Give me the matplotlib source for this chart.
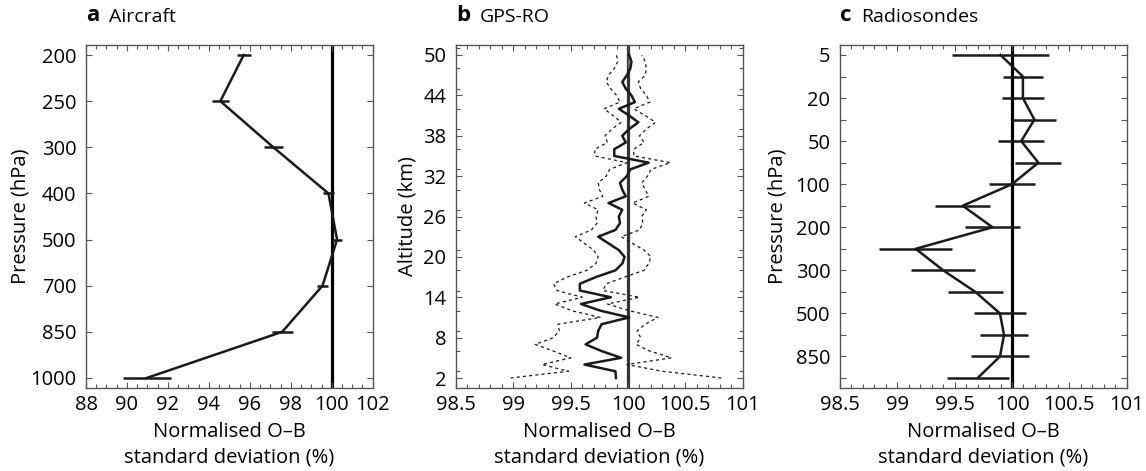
import matplotlib
matplotlib.use('Agg')
import matplotlib.pyplot as plt
from matplotlib.ticker import MultipleLocator, FixedLocator
import numpy as np

# ---------------- data ----------------
air_levels = ['200', '250', '300', '400', '500', '700', '850', '1000']
air_values = [95.7, 94.56, 97.15, 99.84, 100.26, 99.55, 97.58, 90.96]
air_err = [0.35, 0.42, 0.45, 0.25, 0.23, 0.28, 0.51, 1.17]

gps_alt = list(range(2, 51))
gps_values = [99.895, 99.89, 99.62, 99.94, 99.77, 99.63, 99.73, 99.74, 99.77, 100.01,
              99.76, 99.59, 99.85, 99.58, 99.58, 99.72, 99.89, 99.95, 99.97, 99.92,
              99.83, 99.74, 99.89, 99.93, 99.92, 99.95, 99.83, 99.98, 99.95, 99.93,
              99.99, 100.02, 100.18, 99.88, 99.88, 99.98, 99.95, 100.01, 100.09, 100.01,
              99.92, 100.06, 100.03, 99.98, 99.95, 99.99, 100.02, 100.03, 100.01]
gps_err = [0.92, 0.41, 0.37, 0.44, 0.42, 0.44, 0.38, 0.34, 0.38, 0.25,
           0.25, 0.23, 0.25, 0.20, 0.23, 0.25, 0.25, 0.23, 0.23, 0.22,
           0.21, 0.20, 0.21, 0.20, 0.20, 0.21, 0.21, 0.20, 0.20, 0.19,
           0.18, 0.18, 0.19, 0.17, 0.17, 0.16, 0.15, 0.15, 0.15, 0.14,
           0.13, 0.13, 0.13, 0.13, 0.14, 0.16, 0.14, 0.12, 0.11]
gps_ticks = [2, 8, 14, 20, 26, 32, 38, 44, 50]

sonde_levels = ['5', '10', '20', '30', '50', '70', '100', '150', '200', '250',
                '300', '400', '500', '700', '850', '1000']
sonde_values = [99.90, 100.095, 100.095, 100.195, 100.08, 100.23, 100.00, 99.57,
                99.83, 99.16, 99.40, 99.68, 99.895, 99.93, 99.895, 99.70]
sonde_err = [0.42, 0.175, 0.18, 0.185, 0.20, 0.20, 0.20, 0.24,
             0.24, 0.32, 0.28, 0.24, 0.23, 0.21, 0.255, 0.27]

x_ticks_fine = [98.5, 99, 99.5, 100, 100.5, 101]
x_ticklabels_fine = ['98.5', '99', '99.5', '100', '100.5', '101']

# ---------------- style ----------------
plt.rcParams['font.family'] = ['Open Sans', 'DejaVu Sans']
TICK_FS = 14.5
LAB_FS = 14.5
SPINE_C = '#555555'
LW = 1.8

W, H = 1146, 471
fig = plt.figure(figsize=(W / 100, H / 100), dpi=100)
TOP, BOT = 45, 388


def make_ax(left_px):
    width = 286.7
    return fig.add_axes([left_px / W, (H - BOT) / H, width / W, (BOT - TOP) / H])


def style_ax(ax):
    for s in ax.spines.values():
        s.set_color(SPINE_C)
        s.set_linewidth(1.0)
    ax.tick_params(which='both', direction='in', top=True, right=True,
                   length=4, width=0.8, color=SPINE_C, labelsize=TICK_FS)
    ax.tick_params(which='minor', length=3)
    ax.tick_params(axis='x', pad=5)
    ax.tick_params(axis='y', pad=7)


def labels(ax, left_px, ylab_x, ylab):
    cx = (left_px + 286.7 / 2) / W
    fig.text(cx, 1 - 432 / H, 'Normalised O\u2013B', ha='center', va='center',
             fontsize=LAB_FS)
    fig.text(cx, 1 - 457 / H, 'standard deviation (%)', ha='center', va='center',
             fontsize=LAB_FS)
    fig.text(ylab_x / W, 1 - ((TOP + BOT) / 2) / H, ylab, rotation=90,
             ha='center', va='center', fontsize=LAB_FS)


# ---- panel a ----
axa = make_ax(86)
ya = np.arange(len(air_levels))
axa.axvline(100, color='black', lw=2.3, zorder=1)
axa.errorbar(air_values, ya, xerr=air_err, fmt='-', color='#1a1a1a', lw=LW,
             elinewidth=LW, capsize=0, zorder=3)
axa.set_xlim(88, 102)
axa.set_ylim(len(air_levels) - 1 + 0.217, -0.217)
axa.set_yticks(ya)
axa.set_yticklabels(air_levels)
axa.xaxis.set_major_locator(MultipleLocator(2))
axa.xaxis.set_minor_locator(MultipleLocator(0.5))
style_ax(axa)
labels(axa, 86, 21, 'Pressure (hPa)')

# ---- panel b ----
axb = make_ax(456)
gv = np.array(gps_values)
ge = np.array(gps_err)
ga = np.array(gps_alt)
axb.axvline(100, color='#333333', lw=2.3, zorder=1)
top_mask = ga >= 48
axb.fill_betweenx(ga[top_mask], 100, gv[top_mask], color='#999999', lw=0, zorder=1.5)
axb.plot(gv - ge, ga, ls=(0, (2.5, 2.5)), color='#1a1a1a', lw=0.9, zorder=2)
axb.plot(gv + ge, ga, ls=(0, (2.5, 2.5)), color='#1a1a1a', lw=0.9, zorder=2)
axb.plot(gv, ga, '-', color='#1a1a1a', lw=LW, zorder=3)
axb.set_xlim(98.5, 101)
axb.set_ylim(0.514, 51.486)
axb.yaxis.set_major_locator(FixedLocator(gps_ticks))
axb.yaxis.set_minor_locator(MultipleLocator(3))
axb.set_xticks(x_ticks_fine)
axb.set_xticklabels(x_ticklabels_fine)
axb.xaxis.set_minor_locator(MultipleLocator(0.1))
style_ax(axb)
labels(axb, 456, 408, 'Altitude (km)')

# ---- panel c ----
axc = make_ax(840)
yc = np.arange(len(sonde_levels))
axc.axvline(100, color='black', lw=2.3, zorder=1)
axc.errorbar(sonde_values, yc, xerr=sonde_err, fmt='-', color='#1a1a1a', lw=LW,
             elinewidth=LW, capsize=0, zorder=3)
axc.set_xlim(98.5, 101)
axc.set_ylim(len(sonde_levels) - 1 + 0.464, -0.464)
axc.set_yticks(yc[::2])
axc.set_yticklabels(sonde_levels[::2])
axc.set_yticks(yc[1::2], minor=True)
axc.set_xticks(x_ticks_fine)
axc.set_xticklabels(x_ticklabels_fine)
axc.xaxis.set_minor_locator(MultipleLocator(0.1))
style_ax(axc)
axc.tick_params(axis='y', which='minor', length=4)
labels(axc, 840, 777, 'Pressure (hPa)')

# ---- panel titles ----
for ax, letter, name in [(axa, 'a', 'Aircraft'), (axb, 'b', 'GPS-RO'), (axc, 'c', 'Radiosondes')]:
    t = ax.text(0.0, 1.07, letter, transform=ax.transAxes, fontsize=16,
                fontweight='bold', ha='left', va='baseline')
    ax.annotate(name, xy=(1, 0), xycoords=t, xytext=(7, 0), textcoords='offset points',
                fontsize=14, ha='left', va='bottom')

fig.savefig('out.png', dpi=100)
